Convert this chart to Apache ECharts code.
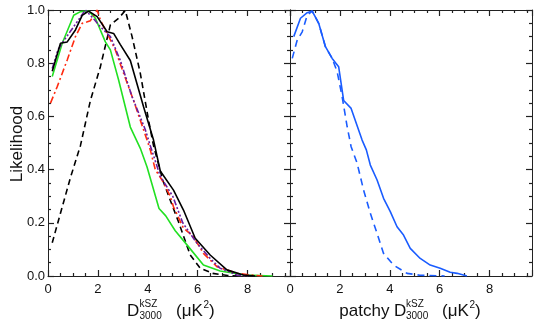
<!DOCTYPE html>
<html>
<head>
<meta charset="utf-8">
<script src="https://cdn.jsdelivr.net/npm/echarts@6/dist/echarts.min.js"></script>
<style>
html,body{margin:0;padding:0;background:#fff;}
#c{width:538px;height:330px;}
</style>
</head>
<body>
<div id="c"></div>
<script>
// ---- data (x in muK^2, y = likelihood) ----
const blackSolid = [[0.17,0.77],[0.5,0.875],[0.77,0.88],[1.1,0.925],[1.37,0.98],[1.63,0.996],[1.97,0.975],[2.37,0.918],[2.63,0.912],[2.9,0.87],[3.3,0.81],[3.83,0.636],[4.23,0.511],[4.5,0.395],[5.03,0.323],[5.43,0.248],[5.9,0.142],[6.5,0.079],[7.17,0.023],[7.83,0.004],[8.3,0.0]];
const blackDashed = [[0.17,0.125],[0.5,0.236],[0.9,0.37],[1.3,0.49],[1.7,0.66],[2.1,0.787],[2.5,0.944],[2.83,0.969],[3.1,0.998],[3.37,0.9],[3.7,0.762],[4.03,0.586],[4.23,0.49],[4.6,0.36],[5.0,0.26],[5.23,0.204],[5.7,0.079],[6.1,0.029],[6.6,0.01],[7.2,0.002],[7.6,0.0]];
const greenSolid = [[0.17,0.75],[0.57,0.875],[0.9,0.95],[1.03,0.98],[1.3,0.994],[1.63,0.996],[1.9,0.969],[2.3,0.88],[2.5,0.85],[2.83,0.737],[3.3,0.56],[3.7,0.48],[3.97,0.41],[4.45,0.254],[4.72,0.226],[5.1,0.17],[5.57,0.117],[6.23,0.041],[6.9,0.019],[7.9,0.004],[9.0,0.0]];
const redDashDot = [[0.1,0.65],[0.37,0.712],[0.77,0.812],[1.1,0.9],[1.37,0.95],[1.55,0.955],[1.7,0.96],[1.97,1.0],[2.1,0.962],[2.37,0.912],[2.7,0.85],[3.03,0.762],[3.43,0.66],[3.97,0.511],[4.1,0.474],[4.3,0.4],[4.57,0.361],[4.9,0.3],[5.03,0.26],[5.43,0.18],[5.83,0.148],[6.23,0.085],[6.77,0.035],[7.57,0.01],[8.3,0.002],[8.6,0.0]];
const purpleDashDot = [[0.17,0.78],[0.4,0.85],[0.6,0.88],[0.9,0.92],[1.2,0.96],[1.5,1.0],[1.8,0.97],[2.1,0.937],[2.5,0.9],[2.9,0.81],[3.37,0.674],[3.9,0.55],[4.1,0.49],[4.5,0.375],[5.0,0.3],[5.4,0.2],[5.97,0.123],[6.5,0.066],[6.9,0.029],[7.57,0.004],[8.0,0.0]];
const blueSolid = [[0.15,0.9],[0.42,0.969],[0.69,0.99],[0.89,0.996],[1.15,0.95],[1.42,0.862],[1.69,0.818],[1.95,0.787],[2.15,0.66],[2.45,0.63],[2.75,0.549],[2.89,0.511],[3.06,0.474],[3.22,0.417],[3.49,0.361],[3.75,0.292],[4.02,0.242],[4.29,0.185],[4.55,0.154],[4.82,0.104],[5.22,0.066],[5.62,0.041],[6.02,0.029],[6.42,0.014],[6.7,0.01],[7.09,0.0]];
const blueDashed = [[0.09,0.818],[0.29,0.887],[0.49,0.918],[0.69,0.98],[0.89,0.996],[1.15,0.95],[1.42,0.862],[1.69,0.818],[1.89,0.768],[2.09,0.674],[2.29,0.562],[2.45,0.486],[2.69,0.424],[2.95,0.323],[3.22,0.236],[3.49,0.16],[3.75,0.085],[4.15,0.041],[4.69,0.01],[5.2,0.003],[6.2,0.0]];

const FONT = 'Liberation Sans, Arial, Helvetica, sans-serif';
const chart = echarts.init(document.getElementById('c'));

function xAx(grid, pos, labels){
  return {
    type:'value', gridIndex:grid, position:pos, min:0, max:9.7, interval:2,
    axisLine:{show:true, onZero:false, lineStyle:{color:'#222', width:1}},
    axisTick:{show:true, inside:true, length:6, lineStyle:{color:'#222', width:1.2}},
    minorTick:{show:true, splitNumber:4, length:3, lineStyle:{color:'#222', width:1.2}},
    splitLine:{show:false}, minorSplitLine:{show:false},
    axisLabel:{show:labels, color:'#111', fontSize:13, margin:7, showMaxLabel:false}
  };
}
function yAx(grid, pos, labels){
  return {
    type:'value', gridIndex:grid, position:pos, min:0, max:1, interval:0.2,
    axisLine:{show:true, onZero:false, lineStyle:{color:'#222', width:1}},
    axisTick:{show:true, inside:true, length:6, lineStyle:{color:'#222', width:1.2}},
    minorTick:{show:true, splitNumber:4, length:3, lineStyle:{color:'#222', width:1.2}},
    splitLine:{show:false}, minorSplitLine:{show:false},
    axisLabel:{show:labels, color:'#111', fontSize:13, margin:3, formatter:v => v.toFixed(1)}
  };
}
function ln(data, color, type, xi, yi){
  return {type:'line', data:data, xAxisIndex:xi, yAxisIndex:yi, showSymbol:false,
    lineStyle:{color:color, width:1.6, type:type}};
}

const option = {
  animation:false,
  textStyle:{fontFamily:FONT},
  grid:[
    {left:48, top:10, width:242, height:266},
    {left:290, top:10, width:242, height:266}
  ],
  xAxis:[xAx(0,'bottom',true), xAx(0,'top',false), xAx(1,'bottom',true), xAx(1,'top',false)],
  yAxis:[yAx(0,'left',true), yAx(0,'right',false), yAx(1,'left',false), yAx(1,'right',false)],
  series:[
    ln(blackDashed,'#000',[6,4],0,0),
    ln(greenSolid,'#22e022','solid',0,0),
    ln(redDashDot,'#ff2a10',[7,3,2,3],0,0),
    ln(purpleDashDot,'#6a1fa0',[6,2,2,2,2,2,2,2],0,0),
    ln(blackSolid,'#000','solid',0,0),
    ln(blueDashed,'#1a5cff',[7,5],2,2),
    ln(blueSolid,'#1a5cff','solid',2,2)
  ],
  graphic:[
    {type:'text', x:17, y:144, rotation:Math.PI/2, style:{text:'Likelihood', font:'17px '+FONT, fill:'#111', align:'center', verticalAlign:'middle'}},
    {type:'text', x:127, y:311, style:{text:'D', font:'17px '+FONT, fill:'#111', align:'left', verticalAlign:'middle'}},
    {type:'text', x:139.5, y:304, style:{text:'kSZ', font:'10px '+FONT, fill:'#111', align:'left', verticalAlign:'middle'}},
    {type:'text', x:139.5, y:316, style:{text:'3000', font:'10px '+FONT, fill:'#111', align:'left', verticalAlign:'middle'}},
    {type:'text', x:176, y:311, style:{text:'(\u03BCK', font:'17px '+FONT, fill:'#111', align:'left', verticalAlign:'middle'}},
    {type:'text', x:203.5, y:305, style:{text:'2', font:'10px '+FONT, fill:'#111', align:'left', verticalAlign:'middle'}},
    {type:'text', x:209, y:311, style:{text:')', font:'17px '+FONT, fill:'#111', align:'left', verticalAlign:'middle'}},
    {type:'text', x:339.3, y:311, style:{text:'patchy D', font:'17px '+FONT, fill:'#111', align:'left', verticalAlign:'middle'}},
    {type:'text', x:406, y:304, style:{text:'kSZ', font:'10px '+FONT, fill:'#111', align:'left', verticalAlign:'middle'}},
    {type:'text', x:406, y:316, style:{text:'3000', font:'10px '+FONT, fill:'#111', align:'left', verticalAlign:'middle'}},
    {type:'text', x:442, y:311, style:{text:'(\u03BCK', font:'17px '+FONT, fill:'#111', align:'left', verticalAlign:'middle'}},
    {type:'text', x:469.5, y:305, style:{text:'2', font:'10px '+FONT, fill:'#111', align:'left', verticalAlign:'middle'}},
    {type:'text', x:475, y:311, style:{text:')', font:'17px '+FONT, fill:'#111', align:'left', verticalAlign:'middle'}}
  ]
};
chart.setOption(option);
</script>
</body>
</html>
